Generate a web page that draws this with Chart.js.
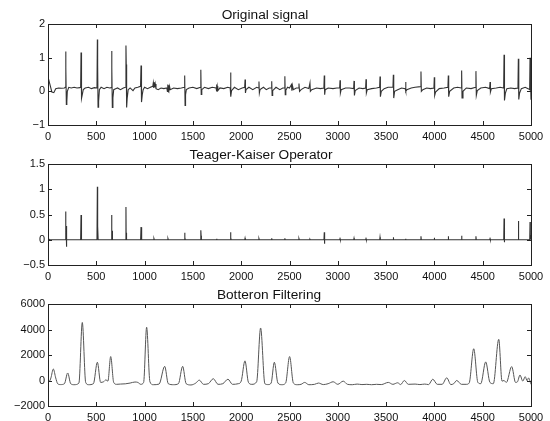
<!DOCTYPE html>
<html>
<head>
<meta charset="utf-8">
<script src="https://cdn.jsdelivr.net/npm/chart.js@4.4.1/dist/chart.umd.min.js"></script>
<style>
  html, body { margin: 0; padding: 0; background: #fff; }
  #wrap { position: relative; width: 550px; height: 421px; overflow: hidden; }
  .panel { position: absolute; left: 0; width: 550px; }
  .title { position: absolute; width: 300px; text-align: center; font-family: "Liberation Sans", Arial, sans-serif; font-size: 13.7px; color: #111; line-height: 16px; }
</style>
</head>
<body>
<div id="wrap">
  <div class="panel" style="top:0;height:140px;"><canvas id="c1"></canvas></div>
  <div class="panel" style="top:140px;height:140px;"><canvas id="c2"></canvas></div>
  <div class="panel" style="top:280px;height:141px;"><canvas id="c3"></canvas></div>
  <div class="title" id="t1" style="left:115px;top:7px;"></div>
  <div class="title" id="t2" style="left:111px;top:147px;"></div>
  <div class="title" id="t3" style="left:119px;top:287px;"></div>
</div>
<script>
// ---------------- data ----------------
const titles = ["Original signal", "Teager-Kaiser Operator", "Botteron Filtering"];
const xTicks = [0, 500, 1000, 1500, 2000, 2500, 3000, 3500, 4000, 4500, 5000];
const yTicks1 = [-1, 0, 1, 2];
const yTicks2 = [-0.5, 0, 0.5, 1, 1.5];
const yTicks3 = [-2000, 0, 2000, 4000, 6000];

// Original signal: [sample, amplitude]
const signalPoints = [
  [0,0.30],[10,0.32],[25,0.15],[40,-0.02],[60,-0.04],[80,0.08],[110,0.10],[140,0.09],[170,0.10],
  [178,0.12],[183,1.18],[186,0.70],[190,-0.39],[195,-0.30],[200,0.00],[215,0.12],[240,0.10],[270,0.12],[300,0.10],[330,0.11],
  [338,0.12],[342,1.15],[345,0.60],[349,-0.21],[355,-0.10],[365,0.05],[385,0.10],[420,0.12],[450,0.08],[480,0.11],[507,0.10],
  [511,1.54],[514,0.80],[518,-0.47],[524,-0.30],[532,0.05],[550,0.12],[580,0.08],[610,0.12],[640,0.10],[655,0.11],
  [659,1.20],[662,0.70],[666,-0.48],[672,-0.20],[680,0.05],[700,0.08],[720,0.10],[750,0.05],[780,0.10],[803,0.12],
  [807,1.36],[810,0.80],[814,-0.48],[820,-0.20],[830,0.05],[850,0.10],[880,0.02],[900,0.10],[930,0.12],[958,0.15],
  [963,0.77],[966,0.40],[970,-0.32],[976,-0.10],[985,0.05],[1000,0.12],[1030,0.08],[1060,0.12],[1085,0.15],
  [1090,0.25],[1095,0.10],[1100,0.27],[1105,0.12],[1110,0.22],[1118,0.08],[1140,0.05],[1170,0.10],[1200,0.08],[1230,0.10],
  [1236,0.00],[1240,0.20],[1244,0.00],[1248,0.18],[1252,-0.02],[1258,0.15],[1265,0.05],[1300,0.10],[1340,0.08],[1380,0.10],[1411,0.12],
  [1415,0.47],[1419,-0.42],[1424,-0.10],[1432,0.05],[1460,0.10],[1500,0.12],[1540,0.08],[1578,0.12],
  [1582,0.64],[1586,-0.09],[1592,0.05],[1620,0.12],[1660,0.08],[1700,0.12],[1740,0.10],
  [1744,0.20],[1748,0.00],[1752,0.15],[1758,0.02],[1780,0.10],[1820,0.08],[1860,0.12],[1886,0.10],
  [1890,0.56],[1894,-0.16],[1900,0.02],[1930,0.12],[1970,0.05],[2010,0.10],[2036,0.12],
  [2040,0.35],[2044,-0.05],[2050,0.05],[2080,0.12],[2120,0.05],[2160,0.12],[2180,0.10],
  [2184,0.29],[2188,-0.05],[2195,0.05],[2230,0.12],[2260,0.05],[2290,0.10],[2312,0.10],
  [2316,0.30],[2320,-0.12],[2326,0.02],[2360,0.12],[2400,0.05],[2430,0.10],[2448,0.10],
  [2452,0.45],[2456,-0.10],[2462,0.03],[2480,0.12],[2500,0.10],[2520,0.20],[2525,0.02],[2530,0.18],[2540,0.05],[2570,0.10],[2594,0.10],
  [2598,0.23],[2604,0.00],[2620,0.05],[2660,0.12],[2700,0.08],[2712,0.25],[2716,0.00],[2730,0.05],[2780,0.10],[2820,0.08],[2856,0.10],
  [2860,0.47],[2864,-0.10],[2870,0.05],[2900,0.10],[2950,0.08],[2990,0.10],[3019,0.10],
  [3023,0.33],[3027,-0.05],[3035,0.05],[3080,0.10],[3120,0.10],[3164,0.08],
  [3168,0.31],[3172,-0.12],[3180,0.02],[3220,0.10],[3260,0.08],[3288,0.10],
  [3292,0.36],[3296,-0.05],[3305,0.05],[3350,0.08],[3400,0.10],[3433,0.12],
  [3437,0.44],[3441,-0.16],[3450,0.00],[3480,0.08],[3520,0.12],[3571,0.12],
  [3575,0.49],[3579,-0.20],[3588,0.00],[3620,0.05],[3660,0.10],[3698,0.08],
  [3702,0.28],[3706,0.00],[3715,0.05],[3760,0.10],[3800,0.12],[3857,0.14],
  [3861,0.59],[3865,0.00],[3880,0.05],[3920,0.10],[3960,0.08],[3995,0.10],
  [3999,0.42],[4003,-0.12],[4012,-0.02],[4050,0.08],[4100,0.10],[4140,0.12],
  [4144,0.47],[4148,-0.16],[4158,0.00],[4200,0.10],[4240,0.12],[4278,0.10],
  [4282,0.62],[4286,-0.20],[4296,0.00],[4330,0.10],[4380,0.08],[4426,0.12],
  [4430,0.60],[4434,-0.12],[4444,0.02],[4480,0.10],[4530,0.12],[4572,0.08],
  [4576,0.28],[4580,-0.02],[4590,0.08],[4640,0.10],[4680,0.12],[4717,0.10],
  [4721,1.09],[4724,0.60],[4727,-0.27],[4735,-0.05],[4750,0.08],[4790,0.10],[4830,0.08],[4865,0.10],
  [4869,0.97],[4872,0.50],[4875,-0.24],[4882,-0.05],[4900,0.08],[4940,0.12],[4970,0.08],[4986,0.05],
  [4990,1.00],[4995,0.30],[5000,-0.25]
];

// Teager-Kaiser operator output: [sample, energy]
const teagerPoints = [
  [0,0.02],[20,0.00],[178,0.00],[183,0.56],[185,0.05],[187,0.27],[189,-0.14],[192,0.02],[196,0.00],
  [338,0.00],[342,0.49],[344,0.05],[346,0.10],[350,0.00],
  [507,0.00],[511,1.05],[513,0.05],[515,0.27],[519,0.00],
  [655,0.00],[659,0.49],[661,0.05],[663,0.18],[667,0.00],
  [803,0.00],[807,0.65],[809,0.05],[811,0.14],[815,0.00],
  [959,0.00],[963,0.25],[966,0.05],[969,0.10],[973,0.00],
  [1094,0.00],[1097,0.02],[1100,0.00],
  [1239,0.00],[1242,0.02],[1245,0.00],
  [1412,0.00],[1415,0.14],[1418,0.05],[1421,0.00],
  [1579,0.00],[1582,0.19],[1585,0.08],[1588,0.00],
  [1743,0.00],[1746,0.02],[1749,0.00],
  [1887,0.00],[1890,0.15],[1893,0.04],[1896,0.00],
  [2037,0.00],[2040,0.03],[2043,0.00],
  [2181,0.00],[2184,0.02],[2187,0.00],
  [2313,0.00],[2316,0.03],[2319,0.00],
  [2449,0.00],[2452,0.03],[2455,0.00],
  [2595,0.00],[2598,0.02],[2601,0.00],
  [2709,0.00],[2712,0.01],[2715,0.00],
  [2857,0.00],[2860,0.15],[2862,-0.08],[2865,0.00],
  [3020,0.00],[3023,0.02],[3026,0.00],
  [3165,0.00],[3168,0.03],[3171,0.00],
  [3289,0.00],[3292,0.02],[3295,0.00],
  [3434,0.00],[3437,0.05],[3440,0.00],
  [3572,0.00],[3575,0.05],[3578,0.00],
  [3699,0.00],[3702,0.02],[3705,0.00],
  [3858,0.00],[3861,0.07],[3864,0.00],
  [3996,0.00],[3999,0.04],[4002,0.00],
  [4141,0.00],[4144,0.07],[4147,0.00],
  [4279,0.00],[4282,0.08],[4285,0.00],
  [4427,0.00],[4430,0.07],[4433,0.00],
  [4573,0.00],[4576,0.02],[4579,0.00],
  [4718,0.00],[4721,0.42],[4723,0.10],[4725,-0.05],[4728,0.00],
  [4866,0.00],[4869,0.37],[4871,0.10],[4874,0.00],
  [4987,0.00],[4990,0.35],[4993,0.10],[5000,0.00]
];

// Botteron filtering output: [sample, value]
const botteronPoints = [
  [0,0],[15,-50],[30,200],[55,900],[80,200],[100,-250],[130,-320],[170,-250],[204,590],[235,-250],
  [270,-330],[320,-200],[355,4550],[390,-150],[420,-330],[470,-250],[511,1430],[545,-150],[575,-100],
  [600,50],[620,-50],[649,1880],[680,-150],[710,-300],[750,-280],[800,-260],[850,-200],[900,-120],
  [930,-150],[960,-300],[990,-150],[1021,4180],[1055,-100],[1090,-330],[1150,-280],[1208,1110],
  [1245,-250],[1300,-330],[1350,-250],[1394,1110],[1430,-250],[1480,-350],[1530,-200],[1566,30],
  [1610,-300],[1660,-250],[1711,140],[1760,-300],[1810,-250],[1863,100],[1910,-300],[1970,-250],
  [2000,-50],[2039,1540],[2075,-150],[2110,-300],[2160,-100],[2201,4120],[2245,-250],[2280,-320],
  [2310,-200],[2343,1430],[2380,-200],[2420,-330],[2460,-200],[2501,1880],[2540,-200],[2580,-330],
  [2620,-300],[2657,-150],[2700,-330],[2760,-300],[2800,-200],[2850,-320],[2900,-250],[2952,-100],
  [3000,-300],[3056,-50],[3100,-300],[3150,-330],[3200,-280],[3250,-320],[3300,-300],[3350,-330],
  [3400,-300],[3450,-320],[3523,-150],[3570,-300],[3620,-180],[3650,-320],[3689,0],[3730,-300],
  [3800,-280],[3850,-320],[3900,-280],[3940,-320],[3983,100],[4030,-300],[4080,-300],[4128,210],
  [4170,-320],[4200,-250],[4231,0],[4280,-300],[4330,-300],[4360,-200],[4407,2490],[4450,-150],
  [4480,-250],[4531,1460],[4575,-150],[4610,-250],[4666,3230],[4700,-50],[4720,0],[4745,-150],
  [4800,1090],[4840,-150],[4860,-100],[4886,430],[4915,-50],[4940,300],[4960,-20],[4975,200],[5000,-300]
];

// ---------------- rendering ----------------
const FONT = "'Liberation Sans', Arial, Helvetica, sans-serif";
const fmt = v => String(v).replace('-', '\u2212');

const boxTicks = {
  id: 'boxTicks',
  afterDraw(chart) {
    const ctx = chart.ctx, a = chart.chartArea;
    const L = 4;
    ctx.save();
    ctx.strokeStyle = '#222';
    ctx.lineWidth = 1;
    ctx.beginPath();
    const xs = chart.scales.x, ys = chart.scales.y;
    xs.ticks.forEach(t => {
      const px = Math.round(xs.getPixelForValue(t.value)) + 0.5;
      ctx.moveTo(px, a.bottom); ctx.lineTo(px, a.bottom - L);
      ctx.moveTo(px, a.top); ctx.lineTo(px, a.top + L);
    });
    ys.ticks.forEach(t => {
      const py = Math.round(ys.getPixelForValue(t.value)) + 0.5;
      ctx.moveTo(a.left, py); ctx.lineTo(a.left + L, py);
      ctx.moveTo(a.right, py); ctx.lineTo(a.right - L, py);
    });
    ctx.stroke();
    ctx.strokeRect(Math.round(a.left) + 0.5, Math.round(a.top) + 0.5,
                   Math.round(a.right - a.left), Math.round(a.bottom - a.top));
    ctx.restore();
  }
};

function makeChart(id, points, yTicks, color, width, smooth) {
  const yMin = yTicks[0], yMax = yTicks[yTicks.length - 1];
  return new Chart(document.getElementById(id), {
    type: 'line',
    data: {
      datasets: [{
        data: points.map(p => ({ x: p[0], y: p[1] })),
        borderColor: color,
        borderWidth: width,
        pointRadius: 0,
        tension: smooth ? 0.4 : 0,
        cubicInterpolationMode: smooth ? 'monotone' : 'default',
        fill: false
      }]
    },
    options: {
      responsive: true,
      maintainAspectRatio: false,
      animation: false,
      events: [],
      layout: { padding: { top: 24, right: 19, left: 0, bottom: 0 } },
      plugins: { legend: { display: false }, tooltip: { enabled: false }, title: { display: false } },
      scales: {
        x: {
          type: 'linear',
          min: xTicks[0], max: xTicks[xTicks.length - 1],
          afterBuildTicks: s => { s.ticks = xTicks.map(v => ({ value: v })); },
          afterFit: s => { s.height = 15; },
          grid: { display: false, drawTicks: false },
          border: { display: false },
          ticks: {
            autoSkip: false, maxRotation: 0, padding: 5, color: '#111',
            font: { family: FONT, size: 11 },
            callback: v => fmt(v)
          }
        },
        y: {
          type: 'linear',
          min: yMin, max: yMax,
          afterBuildTicks: s => { s.ticks = yTicks.map(v => ({ value: v })); },
          afterFit: s => { s.width = 48; },
          grid: { display: false, drawTicks: false },
          border: { display: false },
          ticks: {
            padding: 3, color: '#111',
            font: { family: FONT, size: 11 },
            callback: v => fmt(v)
          }
        }
      }
    },
    plugins: [boxTicks]
  });
}

document.getElementById('t1').textContent = titles[0];
document.getElementById('t2').textContent = titles[1];
document.getElementById('t3').textContent = titles[2];

makeChart('c1', signalPoints, yTicks1, '#333', 1.1, false);
makeChart('c2', teagerPoints, yTicks2, '#333', 1.1, false);
makeChart('c3', botteronPoints, yTicks3, '#555', 1, true);
</script>
</body>
</html>
